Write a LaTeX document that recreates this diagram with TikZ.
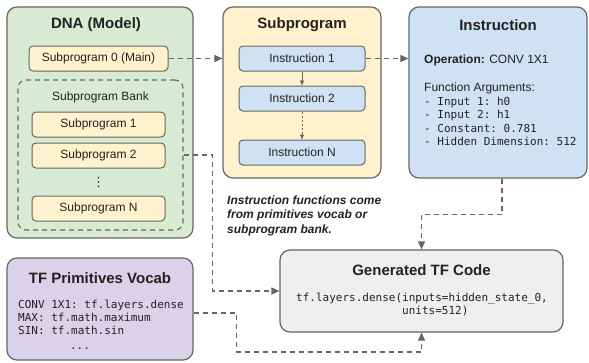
\documentclass[tikz,border=0pt]{standalone}
\usepackage{fontspec}
\setmainfont{Liberation Sans}
\setmonofont{DejaVu Sans Mono}
\newfontfamily\dejavusym{DejaVu Sans}
\usetikzlibrary{arrows.meta}
\definecolor{bord}{HTML}{666666}
\definecolor{txt}{HTML}{222222}
\definecolor{cgreen}{HTML}{D9EAD3}
\definecolor{cyellow}{HTML}{FFF2CC}
\definecolor{cblue}{HTML}{CFE2F3}
\definecolor{cpurple}{HTML}{D9D2E9}
\definecolor{cgray}{HTML}{EFEFEF}
\begin{document}
\begin{tikzpicture}[x=1pt,y=-1pt,
  bigbox/.style={draw=bord, line width=1.2pt, rounded corners=10pt, inner sep=0pt},
  smallbox/.style={draw=bord, line width=1pt, rounded corners=4pt, inner sep=0pt, minimum height=25pt, text=txt, font=\fontsize{12}{14}\selectfont},
  title/.style={inner sep=0pt, text=txt, font=\fontsize{15}{18}\selectfont\bfseries},
  lbl/.style={inner sep=0pt, text=txt, font=\fontsize{12}{14}\selectfont, text height=8.5pt, text depth=2.5pt},
  code/.style={inner sep=0pt, text=txt, font=\fontsize{11}{13}\selectfont\ttfamily, text height=8pt, text depth=2pt},
  conn/.style={draw=bord, line width=1.1pt, dash pattern=on 5pt off 4pt, -{Triangle[length=8pt,width=7pt]}},
  inarrow/.style={draw=bord, line width=0.8pt, -{Triangle[length=5pt,width=4pt]}}
]
\useasboundingbox (0,0) rectangle (589,362);

% DNA (Model)
\node[bigbox, fill=cgreen, minimum width=186pt, minimum height=231pt] (dna) at (100,122.5) {};
\node[title] (dnat) at (96,25) {DNA (Model)};
\node[smallbox, fill=cyellow, minimum width=139pt] (sub0) at (98.5,58.5) {Subprogram 0 (Main)};
\node[draw=bord, line width=1.1pt, dash pattern=on 5pt off 4pt, rounded corners=8pt, minimum width=165pt, minimum height=150pt, inner sep=0pt] (bank) at (100.5,155) {};
\node[lbl] (bankt) at (100.5,97) {Subprogram Bank};
\node[smallbox, fill=cyellow, minimum width=133pt] (sub1) at (98.5,124.5) {Subprogram 1};
\node[smallbox, fill=cyellow, minimum width=133pt] (sub2) at (98.5,155.5) {Subprogram 2};
\node[inner sep=0pt, text=txt, font=\fontsize{13}{14}\dejavusym] (dots) at (98.5,182.5) {⋮};
\node[smallbox, fill=cyellow, minimum width=133pt] (subn) at (98.5,208.5) {Subprogram N};

% Subprogram
\node[bigbox, fill=cyellow, minimum width=158pt, minimum height=171pt] (subp) at (302,92.5) {};
\node[title] (subpt) at (302,25) {Subprogram};
\node[smallbox, fill=cblue, minimum width=126pt] (i1) at (302,58.5) {Instruction 1};
\node[smallbox, fill=cblue, minimum width=126pt] (i2) at (302,98.5) {Instruction 2};
\node[smallbox, fill=cblue, minimum width=126pt] (in) at (302,152.5) {Instruction N};
\draw[inarrow] (i1) -- (i2);
\draw[inarrow, dash pattern=on 2pt off 2pt] (i2) -- (in);

% Instruction
\node[bigbox, fill=cblue, minimum width=178pt, minimum height=171pt] (instr) at (498,92.5) {};
\node[title] (instrt) at (498,25) {Instruction};
\node[lbl, anchor=west] (op) at (424,60) {\textbf{Operation:} CONV 1X1};
\node[lbl, anchor=west] (fa) at (424,88) {Function Arguments:};
\node[code, anchor=west] (a1) at (424,102) {- Input 1: h0};
\node[code, anchor=west] (a2) at (424,115.5) {- Input 2: h1};
\node[code, anchor=west] (a3) at (424,129) {- Constant: 0.781};
\node[code, anchor=west] (a4) at (424,142.5) {- Hidden Dimension: 512};

% note
\node[inner sep=0pt, anchor=north west, align=left, text=txt, font=\fontsize{12}{14.5}\selectfont\bfseries\itshape] (note) at (227,195.5) {Instruction functions come\\from primitives vocab or\\subprogram bank.};

% TF Primitives Vocab
\node[bigbox, fill=cpurple, minimum width=186pt, minimum height=102pt] (prim) at (100,309) {};
\node[title] (primt) at (100,278) {TF Primitives Vocab};
\node[code, anchor=west] (p1) at (18,305) {CONV 1X1: tf.layers.dense};
\node[code, anchor=west] (p2) at (18,318) {MAX: tf.math.maximum};
\node[code, anchor=west] (p3) at (18,331) {SIN: tf.math.sin};
\node[code] (p4) at (80,346) {...};

% Generated TF Code
\node[bigbox, fill=cgray, minimum width=283pt, minimum height=82pt] (gen) at (421.5,291) {};
\node[title] (gent) at (421.5,270) {Generated TF Code};
\node[code, anchor=west] (g1) at (296,298) {tf.layers.dense(inputs=hidden\_state\_0,};
\node[code, anchor=west] (g2) at (402,311) {units=512)};

% connectors
\draw[conn] (sub0.east) -- (subp.west |- sub0.east);
\draw[conn] (i1.east) -- (instr.west |- i1.east);
\draw[conn] (bank.east) -- ++(29,0) |- (gen.west);
\draw[conn] ([xshift=4pt]instr.south) -- ++(0,36) -| (gen.north);
\draw[conn] ([yshift=-4pt]prim.east) -- ++(43,0) -- ++(0,39) -| (gen.south);
\end{tikzpicture}
\end{document}
